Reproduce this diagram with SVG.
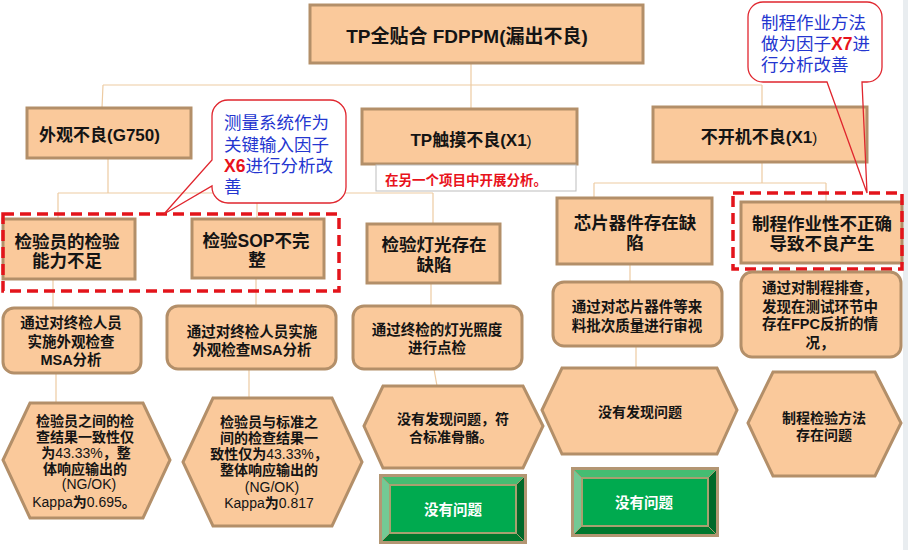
<svg xmlns="http://www.w3.org/2000/svg" width="908" height="550" viewBox="0 0 908 550">
<style>
text{font-family:"Liberation Sans","Noto Sans CJK SC",sans-serif;fill:#141414}
.b{font-weight:bold}
.box{fill:#FAC99B;stroke:#B38F69;stroke-width:3}
.conn{fill:none;stroke:#EDCBA2;stroke-width:1.2}
.dash{fill:none;stroke:#E3141B;stroke-width:3.5;stroke-dasharray:11 6}
.co{fill:#fff;stroke:none}
.col{fill:none;stroke:#E0262E;stroke-width:1.3}
.ct{font-size:17.5px;fill:#2436D0}
.ctr{font-weight:bold;fill:#E8121B}
.t1{font-size:17px;font-weight:bold}
.t2{font-size:17.5px;font-weight:bold;text-anchor:middle}
.t3{font-size:14.5px;font-weight:bold;text-anchor:middle}
.t4{font-size:14px;font-weight:bold;text-anchor:middle}
.n{font-weight:normal}
.gt{font-size:14.5px;font-weight:bold;fill:#fff;text-anchor:middle}
</style>
<defs>
<g id="btn">
<rect x="0" y="0" width="148" height="70" fill="#B39673"/>
<polygon points="3,3 145,3 137,11 11,11" fill="#45BD72"/>
<polygon points="3,3 11,11 11,59 3,67" fill="#73C994"/>
<polygon points="3,67 11,59 137,59 145,67" fill="#00782E"/>
<polygon points="145,3 145,67 137,59 137,11" fill="#00692A"/>
<path d="M3,3 L11,11 M145,3 L137,11 M3,67 L11,59 M145,67 L137,59" stroke="#A89870" stroke-width="1"/>
<rect x="11" y="11" width="126" height="48" fill="#00AA4F" stroke="#A8A070" stroke-width="2"/>
</g>
</defs>
<rect x="0" y="0" width="908" height="550" fill="#fff"/>
<rect x="903" y="0" width="5" height="550" fill="#E9EDF0"/>

<g id="connectors">
<path class="conn" d="M471,63 V85 M103,85 H762 M103,85 L102,108 M471,85 V109 M762,85 V107"/>
<path class="conn" d="M108,158 V193 M58,193 H433 M58,193 V219 M257,193 V219 M433,193 V224"/>
<path class="conn" d="M762,162 V183 M594,183 H826 M594,183 V198 M826,183 V202"/>
<path class="conn" d="M53,279 V308 M256,278 V306 M431,283 V306 M630,264 V282"/>
<path class="conn" d="M56,373 V403 M249,369 V398 M434,369 L437,386 M636,346 V368"/>
</g>

<g id="root">
<rect class="box" x="310" y="5" width="333" height="58"/>
<text x="467" y="43" class="b" font-size="19" text-anchor="middle">TP全贴合 FDPPM(漏出不良)</text>
</g>

<g id="n-waiguan">
<rect class="box" x="27" y="108" width="164" height="50"/>
<text x="39" y="141" class="t1">外观不良(G750)</text>
</g>
<g id="n-tp">
<rect class="box" x="362" y="109" width="215" height="55"/>
<text x="471" y="146" class="t1" text-anchor="middle">TP触摸不良(X1<tspan class="n" font-size="15">)</tspan></text>
</g>
<g id="n-tp-note">
<rect x="376" y="165" width="200" height="26" fill="#fff" stroke="#BDBDBD" stroke-width="1"/>
<text x="385" y="185" class="b" font-size="13.5" style="fill:#E8121B">在另一个项目中开展分析。</text>
</g>
<g id="n-bukaiji">
<rect class="box" x="653" y="107" width="214" height="55"/>
<text x="759" y="143" class="t1" text-anchor="middle">不开机不良(X1<tspan class="n" font-size="15">)</tspan></text>
</g>

<g id="n-jianyanyuan">
<rect class="box" x="3" y="219" width="132" height="60"/>
<text class="t2" x="67" y="248">检验员的检验</text>
<text class="t2" x="67" y="267">能力不足</text>
</g>
<g id="n-sop">
<rect class="box" x="192" y="219" width="132" height="59"/>
<text class="t2" x="256" y="247">检验SOP不完</text>
<text class="t2" x="257" y="266">整</text>
</g>
<g id="n-dengguang">
<rect class="box" x="367" y="224" width="133" height="59"/>
<text class="t2" x="434" y="251">检验灯光存在</text>
<text class="t2" x="434" y="271">缺陷</text>
</g>
<g id="n-xinpian">
<rect class="box" x="557" y="198" width="155" height="66"/>
<text class="t2" x="635" y="229">芯片器件存在缺</text>
<text class="t2" x="635" y="249">陷</text>
</g>
<g id="n-zhicheng">
<rect class="box" x="741" y="202" width="161" height="61"/>
<text class="t2" x="822" y="230">制程作业性不正确</text>
<text class="t2" x="822" y="250">导致不良产生</text>
</g>

<g id="dash-left"><rect class="dash" x="3" y="214" width="336" height="77"/></g>
<g id="dash-right"><rect class="dash" x="733" y="193" width="169" height="76"/></g>

<g id="a-msa1">
<rect class="box" x="3" y="308" width="138" height="65" rx="11"/>
<text class="t3" x="71" y="328">通过对终检人员</text>
<text class="t3" x="71" y="347">实施外观检查</text>
<text class="t3" x="71" y="365">MSA分析</text>
</g>
<g id="a-msa2">
<rect class="box" x="167" y="306" width="169" height="63" rx="11"/>
<text class="t3" x="252" y="337">通过对终检人员实施</text>
<text class="t3" x="252" y="355">外观检查MSA分析</text>
</g>
<g id="a-light">
<rect class="box" x="353" y="306" width="169" height="63" rx="11"/>
<text class="t3" x="437" y="335">通过终检的灯光照度</text>
<text class="t3" x="437" y="353">进行点检</text>
</g>
<g id="a-chip">
<rect class="box" x="553" y="282" width="169" height="64" rx="11"/>
<text class="t3" x="637" y="312">通过对芯片器件等来</text>
<text class="t3" x="637" y="331">料批次质量进行审视</text>
</g>
<g id="a-process">
<rect class="box" x="741" y="272" width="160" height="85" rx="11"/>
<text class="t3" x="820" y="293">通过对制程排查，</text>
<text class="t3" x="820" y="312">发现在测试环节中</text>
<text class="t3" x="820" y="329">存在FPC反折的情</text>
<text class="t3" x="820" y="348">况，</text>
</g>

<g id="r-kappa1">
<polygon class="box" points="3,460 30,403 143,403 170,460 143,518 30,518"/>
<text class="t4" x="85" y="426">检验员之间的检</text>
<text class="t4" x="85" y="442">查结果一致性仅</text>
<text class="t4" x="86" y="458">为<tspan class="n">43.33%</tspan>，整</text>
<text class="t4" x="85" y="474">体响应输出的</text>
<text class="t4" x="89" y="489"><tspan class="n">(NG/OK)</tspan></text>
<text class="t4" x="84" y="507"><tspan class="n">Kappa</tspan>为<tspan class="n">0.695</tspan>。</text>
</g>
<g id="r-kappa2">
<polygon class="box" points="183,462 213,398 332,398 362,462 332,526 213,526"/>
<text class="t4" x="269" y="427">检验员与标准之</text>
<text class="t4" x="269" y="443">间的检查结果一</text>
<text class="t4" x="269" y="459">致性仅为<tspan class="n">43.33%</tspan>，</text>
<text class="t4" x="269" y="475">整体响应输出的</text>
<text class="t4" x="272" y="492"><tspan class="n">(NG/OK)</tspan></text>
<text class="t4" x="269" y="508"><tspan class="n">Kappa</tspan>为<tspan class="n">0.817</tspan></text>
</g>
<g id="r-light">
<polygon class="box" points="364,426 383,386 523,386 543,426 523,468 383,468"/>
<text class="t4" x="453" y="424">没有发现问题，符</text>
<text class="t4" x="451" y="442">合标准骨骼。</text>
</g>
<g id="r-chip">
<polygon class="box" points="542,410 562,368 717,368 737,410 717,454 562,454"/>
<text class="t4" x="640" y="417">没有发现问题</text>
</g>
<g id="r-process">
<polygon class="box" points="748,423 773,372 875,372 901,423 875,476 773,476"/>
<text class="t4" x="824" y="423">制程检验方法</text>
<text class="t4" x="824" y="440">存在问题</text>
</g>

<g id="ok-light">
<use href="#btn" x="379" y="474"/>
<text class="gt" x="453" y="515">没有问题</text>
</g>
<g id="ok-chip">
<use href="#btn" x="571" y="467"/>
<text class="gt" x="644" y="508">没有问题</text>
</g>

<g id="callout-x6">
<rect class="co" x="212" y="100" width="134" height="103" rx="16"/>
<path class="col" d="M228,100 H330 A16,16 0 0 1 346,116 V187 A16,16 0 0 1 330,203 H228 A16,16 0 0 1 212,187 V186 L164,214 L212,160 V116 A16,16 0 0 1 228,100 Z"/>
<text class="ct" x="224" y="129">测量系统作为</text>
<text class="ct" x="224" y="151">关键输入因子</text>
<text class="ct" x="224" y="172"><tspan class="ctr">X6</tspan>进行分析改</text>
<text class="ct" x="224" y="193">善</text>
</g>
<g id="callout-x7">
<rect class="co" x="748" y="2" width="134" height="80" rx="15"/>
<path class="col" d="M763,2 H867 A15,15 0 0 1 882,17 V67 A15,15 0 0 1 867,82 H862 L867,193 L827,82 H763 A15,15 0 0 1 748,67 V17 A15,15 0 0 1 763,2 Z"/>
<text class="ct" x="761" y="29">制程作业方法</text>
<text class="ct" x="761" y="50">做为因子<tspan class="ctr">X7</tspan>进</text>
<text class="ct" x="761" y="71">行分析改善</text>
</g>
</svg>
